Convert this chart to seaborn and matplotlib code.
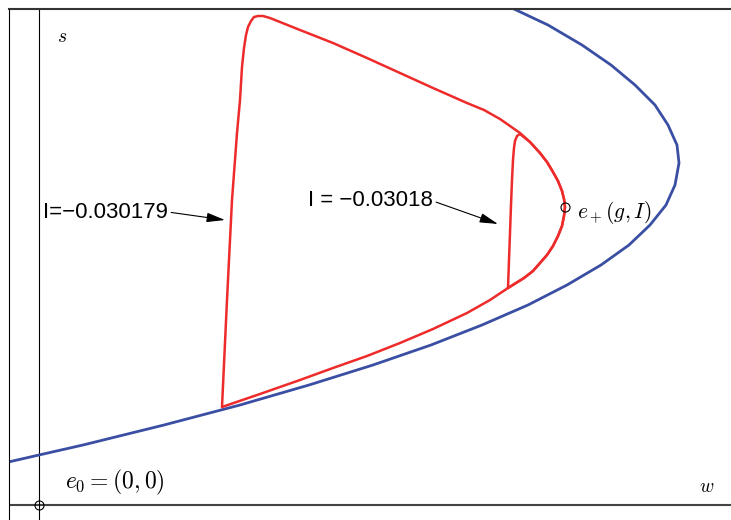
import numpy as np
import pandas as pd
import matplotlib
matplotlib.use("Agg")
import matplotlib.pyplot as plt
import seaborn as sns

# ---- data (w, s) ----
blue_w = [-0.45, -0.35, 0.00, 0.44, 1.25, 2.01, 2.70, 3.34, 3.92, 4.43, 4.89, 5.28, 5.62,
          5.90, 6.11, 6.27, 6.36, 6.40, 6.38, 6.29, 6.16, 5.96, 5.72, 5.43, 5.09, 4.75, 4.62]
blue_s = [0.40, 0.42, 0.50, 0.60, 0.80, 1.00, 1.20, 1.40, 1.60, 1.80, 2.00, 2.20, 2.40,
          2.60, 2.80, 3.00, 3.20, 3.42, 3.60, 3.80, 4.00, 4.20, 4.40, 4.60, 4.80, 4.96, 5.02]

outer_w = [1.83, 1.88, 1.93, 1.96, 1.98, 2.01, 2.03, 2.05, 2.07, 2.09, 2.12, 2.15, 2.19,
           2.24, 2.31, 2.46, 2.61, 2.94, 3.28, 3.61, 3.94, 4.28, 4.45, 4.61, 4.81, 4.91, 5.01,
           5.08, 5.14, 5.19, 5.23, 5.25, 5.26, 5.25, 5.23, 5.19, 5.14, 5.08, 5.01, 4.94,
           4.85, 4.77, 4.69, 4.51, 4.28, 3.94, 3.61, 3.28, 2.94, 2.61, 2.21, 1.83]
outer_s = [0.98, 2.05, 3.05, 3.45, 3.72, 4.05, 4.38, 4.57, 4.70, 4.78, 4.84, 4.88, 4.89,
           4.89, 4.87, 4.81, 4.75, 4.62, 4.47, 4.32, 4.17, 4.02, 3.95, 3.86, 3.72, 3.63, 3.52,
           3.43, 3.33, 3.24, 3.14, 3.06, 2.98, 2.89, 2.79, 2.69, 2.59, 2.50, 2.42, 2.34,
           2.27, 2.22, 2.17, 2.05, 1.92, 1.76, 1.62, 1.49, 1.37, 1.25, 1.11, 0.98]

inner_w = [4.69, 4.70, 4.71, 4.72, 4.73, 4.74, 4.75, 4.76, 4.78, 4.81, 4.91, 5.01, 5.08,
           5.14, 5.19, 5.23, 5.25, 5.26, 5.25, 5.23, 5.19, 5.14, 5.08, 5.01, 4.94, 4.85,
           4.77, 4.69]
inner_s = [2.17, 2.45, 2.72, 3.00, 3.25, 3.45, 3.57, 3.64, 3.69, 3.71, 3.63, 3.52, 3.43,
           3.33, 3.24, 3.14, 3.06, 2.98, 2.89, 2.79, 2.69, 2.59, 2.50, 2.42, 2.34, 2.27,
           2.22, 2.17]

eq_w = [0.0, 5.26]
eq_s = [0.0, 2.98]
eq_labels = [r"$e_0=(0,0)$", r"$e_+(g,I)$"]

curve_labels = ["I=\u22120.030179", "I = \u22120.03018"]
curve_label_pos = [(0.04, 2.93), (2.69, 3.04)]
curve_arrow_tip = [(1.86, 2.85), (4.59, 2.81)]

# ---- plotting ----
sns.set_theme(style="white")
plt.rcParams["mathtext.fontset"] = "cm"
plt.rcParams["font.family"] = ["Liberation Sans", "DejaVu Sans"]
plt.rcParams["text.color"] = "black"

fig = plt.figure(figsize=(7.31, 5.20), dpi=100)
ax = fig.add_axes([9 / 731, 0, 722 / 731, 511 / 520])

df_blue = pd.DataFrame({"w": blue_w, "s": blue_s})
df_outer = pd.DataFrame({"w": outer_w, "s": outer_s})
df_inner = pd.DataFrame({"w": inner_w, "s": inner_s})

sns.lineplot(data=df_blue, x="w", y="s", sort=False, estimator=None, ax=ax,
             color="#3a4fa3", lw=2.0)
sns.lineplot(data=df_outer, x="w", y="s", sort=False, estimator=None, ax=ax,
             color="#ee2b2b", lw=1.8)
sns.lineplot(data=df_inner, x="w", y="s", sort=False, estimator=None, ax=ax,
             color="#ee2b2b", lw=1.8)
for ln in ax.lines:
    ln.set_solid_joinstyle("round")

ax.axhline(0, color="#444444", lw=1.5, zorder=1)
ax.axvline(0, color="black", lw=0.8, zorder=1)

ax.plot(eq_w, eq_s, "o", ms=6.5, mfc="none", mec="black", mew=0.8, zorder=5)

ax.set_xlim(-0.30, 6.92)
ax.set_ylim(-0.15, 4.96)
ax.set_xlabel("")
ax.set_ylabel("")
ax.set_xticks([])
ax.set_yticks([])
for side in ["right", "bottom"]:
    ax.spines[side].set_visible(False)
ax.spines["top"].set_color("#333333")
ax.spines["top"].set_linewidth(1.5)
ax.spines["left"].set_color("black")
ax.spines["left"].set_linewidth(0.8)

ax.text(0.23, 4.68, r"$s$", fontsize=14, ha="center", va="center", color="black")
ax.text(6.68, 0.18, r"$w$", fontsize=14, ha="center", va="center", color="black")
ax.text(0.26, 0.23, eq_labels[0], fontsize=17, ha="left", va="center", color="black")
ax.text(5.38, 2.92, eq_labels[1], fontsize=15.5, ha="left", va="center", color="black")

for lab, pos, tip in zip(curve_labels, curve_label_pos, curve_arrow_tip):
    ax.annotate(lab, xy=tip, xytext=pos, fontsize=16, ha="left", va="center",
                color="black", family=["Liberation Sans", "DejaVu Sans"],
                arrowprops=dict(arrowstyle="-|>,head_length=0.7,head_width=0.18",
                                color="black", lw=0.8, shrinkA=0, shrinkB=0,
                                relpos=(1.0, 0.5)))

fig.savefig("out.png", dpi=100)
